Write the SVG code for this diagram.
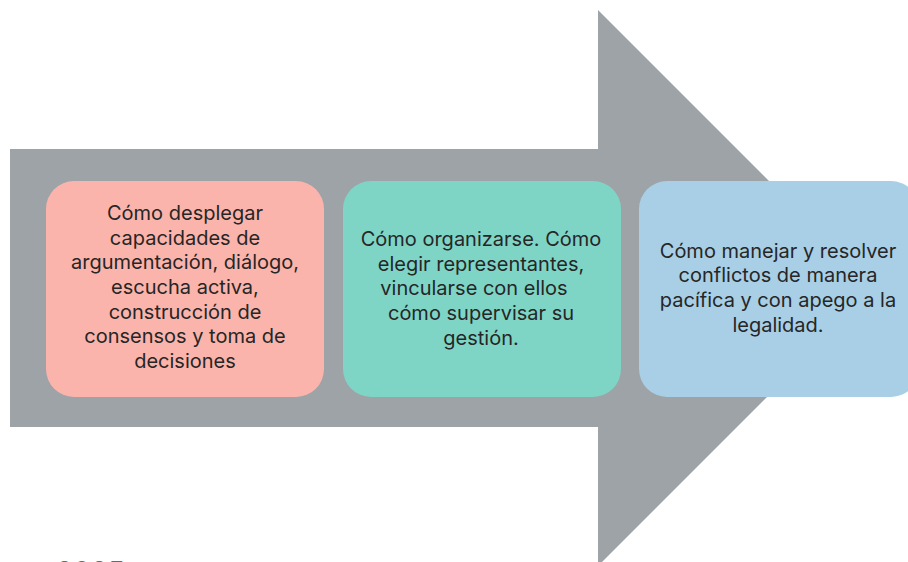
<svg xmlns="http://www.w3.org/2000/svg" width="908" height="562" viewBox="0 0 908 562">
<style>
.t{font-family:Inter,"Noto Sans","Liberation Sans",sans-serif;font-size:20px;fill:#262626;text-anchor:middle}
</style>
<rect width="908" height="562" fill="#ffffff"/>
<g id="arrow">
<polygon points="10,149 598,149 598,10 876,288 598,566 598,427 10,427" fill="#9ea3a7"/>
</g>
<g id="box1">
<rect x="46" y="181" width="278" height="216" rx="28" fill="#fbb4ab"/>
<text class="t" x="185" y="220">Cómo desplegar</text>
<text class="t" x="185" y="245">capacidades de</text>
<text class="t" x="185" y="269">argumentación, diálogo,</text>
<text class="t" x="185" y="294">escucha activa,</text>
<text class="t" x="185" y="319">construcción de</text>
<text class="t" x="185" y="343">consensos y toma de</text>
<text class="t" x="185" y="368">decisiones</text>
</g>
<g id="box2">
<rect x="343" y="181" width="278" height="216" rx="28" fill="#7ed5c6"/>
<text class="t" x="481" y="246">Cómo organizarse. Cómo</text>
<text class="t" x="481" y="271">elegir representantes,</text>
<text class="t" x="474" y="295">vincularse con ellos</text>
<text class="t" x="481" y="320">cómo supervisar su</text>
<text class="t" x="481" y="345">gestión.</text>
</g>
<g id="box3">
<rect x="639" y="181" width="280" height="216" rx="28" fill="#a8cfe5"/>
<text class="t" x="778" y="258">Cómo manejar y resolver</text>
<text class="t" x="778" y="282">conflictos de manera</text>
<text class="t" x="778" y="307">pacífica y con apego a la</text>
<text class="t" x="778" y="332">legalidad.</text>
</g>
<g id="connectors"></g>
<text x="56" y="582" font-family="Inter,'Liberation Sans',sans-serif" font-size="28" fill="#6a6a6a">2025</text>
</svg>
